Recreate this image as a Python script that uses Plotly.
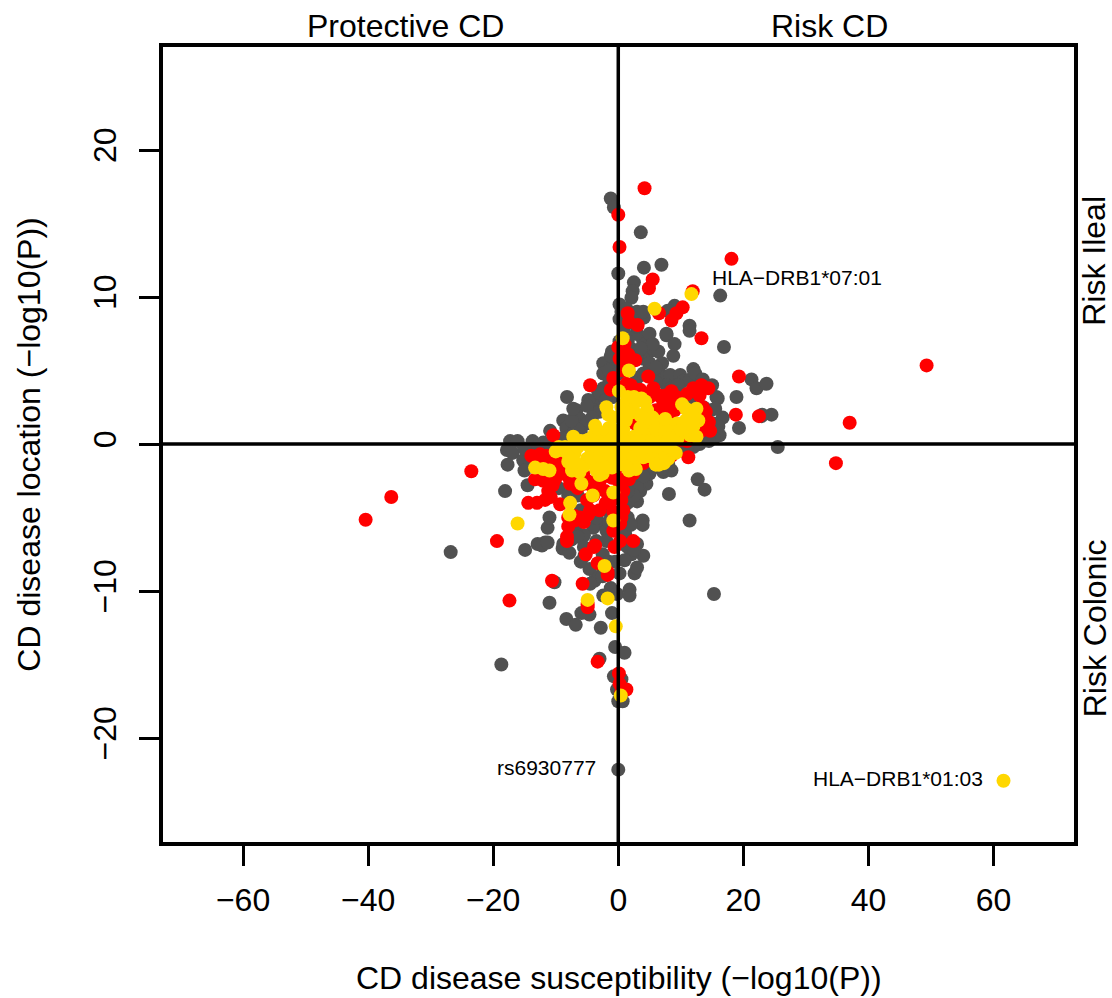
import plotly.graph_objects as go

gray_pts = [
(-1.2,16.7),(-0.7,16.1),(3.6,14.4),(0,11.6),(4.1,12.0),(6.9,12.2),(2.5,11.0),(2.3,10.4),(2.1,9.95),(0.2,9.5),(16.3,10.1),
(9,9.4),(7.9,9.07),(4.1,8.6),(11.4,8.05),(7.7,7.5),(3,7.5),(16.9,6.6),(21.3,4.4),(22.1,3.8),(18.9,3.2),(22.9,1.9),(19.3,1.1),
(16.7,1.8),(15.9,3.1),(16.2,0.6),(-8.2,3.2),(12.7,-2.4),(13.8,-3.1),(8.1,-3.4),(11.4,-5.2),(-18.1,-3.2),(-17.7,-1.4),
(-17.3,0.2),(-16.1,0.2),(-17.8,-0.4),(-16.9,-0.6),(-13.7,0.2),(-11.3,-5.7),(-11.7,-6.7),(-12.9,-6.8),(-14.9,-7.2),
(3.9,-5.2),(3.9,-5.5),(3,-3.9),(-26.8,-7.35),(-18.7,-15),(15.3,-10.2),(25.5,-0.2),(24.5,2),(23.7,4.1),(23,2),(0,-22.15),
(-12.2,-6.9),(-11.3,-6.7),(-8.9,-7.1),(-7.8,-7.4),(-5.4,-7.6),(-4.6,-8.5),(-3.8,-9.3),(-10.2,-9.4),(-11,-10.8),(-8.3,-11.9),
(-6.8,-12.3),(-5.9,-11.5),(-4.6,-11.6),(-2.8,-12.5),(-1,-11.5),(-1.2,-9.8),(-2.4,-10.3),(-0.2,-10.2),(1.8,-9.9),(1.8,-10.3),
(2.6,-8.8),(3,-8.4),(4,-7.6),(2.1,-7.5),(1,-7.9),(0.2,-8.8),(-0.5,-13.8),(1,-14.2),(-3,-14.6),(-0.7,-15.8),(0.5,-16),
(-0.2,-16.7),(0,-17.5),(0.7,-17.5),
(-2.4,5.5),(-0.8,5.4),(4,7),(5,6.3),(6.4,6.3),(4,5.8),(2.9,7.5),(7.7,7.4),(9,6.8),(8.8,6),(11.4,7.7),
(6.9,4.7),(8.3,4.7),(9.9,4.7),(12,5.1),(7.7,4),(10.4,4.3),(5.6,4.7),(-6.7,2.3),(-8.8,1.6),(-8.3,1.1),(-6.1,1.7),(-10.9,0.9),
(-3.5,2.9),(-4,2.3),(-5.1,1.4),(-2.4,3.8),(-0.8,3.2),(-2.4,4.8),(15.7,3.2),(14.7,2.3),(13.6,2.5),(15.2,1.4),(13,0),(12,-0.2),
(9.9,-0.3),(4.5,-2.7),(3.5,-3.2),(2.9,-2.3),(7.2,-1.9),(5.6,-1.6),(-13.6,-0.4),(-15.2,-1.1),(-2.9,-5.4),(-4,-5.7),(-1.9,-5.9),
(-3.5,-6.6),(-1.9,-6.6),(-8.8,-6.8),(1.9,-5.4),(1.1,-6.1),(-1.9,-4.5),(0.5,9),(1,8),(0.2,7),(1.5,7),(2,6.5),(3,6),(1,5),(2,8.5),(3,9),
(-9.5,0.2),(-12,0.1),(-8,0.5),(-6,0.8),(-14,-1.2),(-11.5,-0.3),(-5.5,-6.2),(-6.8,-5.8),(-9.5,-3),(-6.5,-3.5),(1.5,-4),(2,-3),
(10.5,3.4),(12.2,2.9),(14,1),(11,0),(5,5.2),(7,5.5),(3,4.5),(-1,6.3),(-1.4,4.2),(-3.2,3.5),(-4.8,3),(-7,0.8),
(-7.5,0.2),(-9,0.4),(-10,0.1),(-11,0),(-13,-0.2),(-15,-0.3),(-15,-1.8),(-14.5,-2.8),(-5,2.6),(-6.5,1),(-7.5,1.6),(-7.2,2.4),(-3,2.2),
(-4.2,1.8),(-2,3),(-1.5,5),(-1.2,6),(0,4.8),(-0.5,4),(0.2,8.5),(1.3,9.2),(1,7.5),(3,8),(4,9),(5,7.5),(5.5,6.8),(3.6,6.5),(5,5.5),(6,5.2),
(6,4.2),(4,4.8),(8.5,3.8),(9.5,4),(11.5,4.4),(12.3,4.8),(13.5,4.4),(15,4),(15.5,2.4),(16,1.2),(15.3,0.4),(14.5,0.2),(11,-0.2),(8,-1.4),
(8.5,-1.8),(7,-1.7),(5,-2),(4,-2.2),(3,-3),(2.5,-3.5),(1.5,-3.2),(1.5,-5),(2,-5.5),(-1,-5),(-1.5,-5.3),(-3.5,-5),(-6,-4.5),(-8,-3.5),
(-11,-5),(-7.5,-6.5),(-6.5,-6.3),(-5.5,-7),(-2.5,-7.5),(-1.5,-8),(-0.5,-8),(-3,-9),(0.8,-6.8),(1.5,-7),(3,-6.8),(2.5,-7.2),(-4.5,-9.5),
(-2.5,-9),(-6,-8)
]
gray_x = [p[0] for p in gray_pts]
gray_y = [p[1] for p in gray_pts]

red_pts = [
(4.2,17.4),(0,15.6),(0.2,13.4),(18.1,12.6),(5.5,11.2),(4.9,10.6),(11.9,10.4),(1.5,8.9),(1.7,8.3),(3.1,8.1),(6.5,8.9),(10.3,9.3),
(9.3,8.9),(8.5,8.4),(13.3,7.2),(49.3,5.35),(37,1.45),(34.8,-1.3),(-40.4,-5.15),(-36.3,-3.6),(-23.5,-1.85),(-19.4,-6.6),(-17.4,-10.65),
(19.3,4.6),(18.8,2),(22.5,1.9),(11.2,-0.9),(-10.4,0.6),(-4.5,4),(0,6.6),(1.6,6.1),(2.7,5.7),(-0.8,4.5),(4.8,4.6),(1.3,4.1),(3.5,3.7),
(5.6,3.8),(8.5,3.6),(12,3.8),(13.3,4),(14.4,3.8),(7.2,2.8),(6,2.3),(8.3,2.6),(9.3,3.2),(14.1,1.6),(13.3,0.9),(14.7,0.9),(9.3,0.5),(12,0.5),
(2.7,1.4),(-13.9,-0.8),(-12.5,-0.7),(-11.5,-0.8),(-10.1,-1.4),(-9.3,-1.5),(-13.3,-2.4),(-12,-2.5),(-10.1,-2.4),(-11.2,-3.2),(-14.4,-4),
(-13,-4),(-11.7,-3.8),(-9.3,-4.1),(-7.7,-2.7),(-6.7,-2),(-5.6,-2),(-3.5,-2.5),(-2.1,-3.2),(-5,-3.8),(-4.5,-4.5),(-6.1,-5),(-8,-5),(-8,-5.6),
(-8.2,-6.3),(-0.8,-4.6),(0.8,-4.5),(0.3,-5.4),(-0.8,-5.9),(2.4,-6.6),(-3.7,-6.9),(0.3,-6.6),(2.4,-2),(0.8,-3.2),(5.6,-0.3),
(-10.6,-9.3),(-5.7,-9.5),(-4.9,-11.1),(-4.9,-10.9),(-3.3,-14.8),(-3.3,-8.1),(-1.7,-8.7),(-1.7,-8.9),(-5.2,-7.5),(-3.9,-7),(-8.2,-6.6),
(-0.6,-7),(0.1,-15.6),(0.2,-16.3),(1.3,-16.7),(0.5,-16.9),
(5,3.2),(6.5,3.3),(7.5,3.3),(9,2.8),(10,3),(11,3.4),(13,3.3),(13.5,2.5),(14,2.2),(13.5,2),(14.5,1.5),(12.5,1),(11,0.2),(10,0.3),(6.5,2),
(7.5,2.2),(8,1.9),(9,2.3),(3.3,3.5),(4.5,3.4),(2,4),(0.8,5),(1.6,5.3),(1,6.8),(0.2,5.8),(-0.3,3.8),(-1.2,3.7),
(-13.2,-1),(-12.5,-1.1),(-11,-1.1),(-10,-1),(-9,-1),(-9,-2),(-8.5,-1.8),(-8,-2.2),(-7,-2.5),(-6.5,-3),(-5.5,-2.7),(-5,-2.5),(-4,-3),(-3,-3),
(-2.8,-2.4),(-1,-2.3),(0,-2.5),(1,-2.4),(1.7,-2.4),(0.5,-3.8),(-1.2,-3.9),(-2,-4),(-4,-3.5),(-10.5,-2.8),(-10.8,-3.6),(-3,-4.5),(-4.8,-4.8),
(-5.5,-5.3),(-7,-4.9),(-7,-5.2),(0.5,-5),(0,-4.8),(3,-1),(4,-1.3),(6,-0.8),(8.2,-0.4),(8.5,-0.8),(-0.5,-1.8),(-4.2,-0.9)
]
red_x = [p[0] for p in red_pts]
red_y = [p[1] for p in red_pts]

gold_pts = [
(61.6,-22.9),(-16.1,-5.4),(0.4,-17.1),(-0.4,-12.4),(-1.7,-10.5),(-4.9,-10.6),(-2.2,-8.3),(11.7,10.2),(5.8,9.2),(0.7,7.2),(1.7,5),(0.1,3.6),
(1.3,2.9),(2.9,2.9),(4.3,2.9),(0.8,2.3),(2.5,2.2),(4.6,2.3),(-1.9,2.5),(-1.6,2),(1.2,1.6),(4.6,1.5),(6.8,1.5),(8.4,1.3),(10.2,2.7),
(12.5,2.4),(11.4,2.2),(12.8,1.6),(12,1.9),(10.8,1.6),(9.4,1.4),(0.8,1),(2.5,0.5),(4.5,0.7),(6.5,0.7),(8.5,0.6),(11.5,0.6),(12.5,0.5),(0.5,0.3),
(2.5,0.2),(4.7,0.2),(7,0.2),(-0.8,0.4),(-2.2,0.5),(-3.7,1.25),(-3.9,0.6),(-1.5,1.1),(-0.8,1.8),(-4.8,0.3),(-7.2,0.5),(-5.2,0.2),(-2.5,0.2),(-1,0.9),
(-10,-0.5),(-9,-0.4),(-8,-0.7),(-7,-0.6),(-4,-0.4),(-2,-0.3),(-0.5,-0.3),(-8,-1.2),(-7.4,-1.8),(-5.5,-1.5),(-3.7,-1.3),(-2,-1),(-0.7,-1),
(-3,-2.1),(-2.5,-2),(-1.2,-1.5),(-13.3,-1.6),(-12,-1.7),(-11,-1.8),(-6.2,-1.9),(0.5,-0.5),(2,-0.5),(3.5,-0.6),(5,-0.5),(6.5,-0.5),(7,-1),(7.3,-1.3),
(6.5,-1.4),(8,-1),(9.2,-0.6),(2.5,-1.5),(2.8,-1.7),(1.7,-1.8),(-5.9,-2.7),(-4.1,-3.5),(-0.8,-3.3),(-7.7,-4),(-7.8,-4.8),(-0.8,-5.2),
(0.5,2.5),(1.5,3.2),(2.5,3.2),(3.7,3.1),(0.5,1.8),(1.8,2.1),(3.6,1.9),(5.5,1.1),(1.5,0.4),(3.5,0.4),(5.5,0.4),(6,1),(7.5,1),(8,0.4),(9.5,0.4),
(10,1),(11,1.2),(-0.5,0.9),(-1.5,0.3),(-3,0.8),(-3.3,0.2),(-4.2,0.2),(-6,0.2),(1,0.2),(3.5,1.1),(10.8,2.4),(12,1.2),(5.5,1.8),(7.5,1.7),
(-9.5,-0.2),(-8.5,-0.2),(-7.5,-0.2),(-6.5,-0.2),(-4.5,-0.2),(-3.5,-0.2),(-2.5,-0.2),(-1.5,-0.2),(-7,-1.2),(-5,-1),(-4.5,-0.9),
(-3,-0.8),(-1.5,-0.7),(-1,-1.6),(-3.5,-1.8),(-2,-1.6),(0,-1.4),(1,-1),(1,-0.4),(2.5,-0.9),(4,-0.9),(5.5,-0.9),(6,-1.4),(7.5,-0.7),
(8.5,-0.4),(1.2,-1.5),(3,-0.2),(4.5,-0.2),(6,-0.2),(8,-0.2),(0,-0.7)
]
gold_x = [p[0] for p in gold_pts]
gold_y = [p[1] for p in gold_pts]

x_ticks = [-60,-40,-20,0,20,40,60]
y_ticks = [-20,-10,0,10,20]
x_tick_labels = ["\u221260","\u221240","\u221220","0","20","40","60"]
y_tick_labels = ["\u221220","\u221210","0","10","20"]
FONT = "Liberation Sans"

fig = go.Figure()
for xs, ys, c, name in [(gray_x,gray_y,"#515151","All"),(red_x,red_y,"#ff0000","Group 1"),(gold_x,gold_y,"#ffd700","Group 2")]:
    fig.add_trace(go.Scatter(x=xs,y=ys,mode="markers",name=name,marker=dict(color=c,size=14,line_width=0),cliponaxis=True))

ax = dict(showgrid=False,zeroline=False,showline=True,mirror=True,linecolor="black",linewidth=3.5,ticks="outside",ticklen=20,tickwidth=2.5,tickcolor="black",
          tickfont=dict(family=FONT,size=32,color="black"),automargin=False)
fig.update_xaxes(range=[-72.8,72.87],tickvals=x_ticks,ticktext=x_tick_labels,ticklabelstandoff=7,**ax)
fig.update_yaxes(range=[-27.07,27.01],tickvals=y_ticks,ticktext=y_tick_labels,tickangle=-90,ticklabelstandoff=10,**ax)

fig.add_shape(type="line",xref="x",yref="paper",x0=0,x1=0,y0=0,y1=1,line=dict(color="black",width=3.5),layer="above")
fig.add_shape(type="line",xref="paper",yref="y",x0=0,x1=1,y0=0,y1=0,line=dict(color="black",width=3.5),layer="above")

def note(t,x,y,size,xanchor="center",xref="x",yref="y",angle=0):
    fig.add_annotation(text=t,x=x,y=y,xref=xref,yref=yref,showarrow=False,xanchor=xanchor,yanchor="middle",textangle=angle,
                       font=dict(family=FONT,size=size,color="black"))
note("HLA\u2212DRB1*07:01",14.7,11.3,21,"left")
note("rs6930777",-3.3,-22.0,21,"right")
note("HLA\u2212DRB1*01:03",58.7,-22.75,21,"right")
note("Protective CD",0.2666,1.027,32,xref="paper",yref="paper")
note("Risk CD",0.7317,1.027,32,xref="paper",yref="paper")
note("Risk Ileal",1.0225,12.5,32,angle=-90,xref="paper")
note("Risk Colonic",1.0225,-12.5,32,angle=-90,xref="paper")
note("CD disease susceptibility (\u2212log10(P))",0.5,-0.1705,32,xref="paper",yref="paper")
note("CD disease location (\u2212log10(P))",-0.148,0.5,32,xref="paper",yref="paper",angle=-90)

fig.update_layout(width=1112,height=998,margin=dict(l=163,r=37.5,t=46.5,b=156),plot_bgcolor="white",paper_bgcolor="white",showlegend=False)
fig.write_html("out.html",config={"displayModeBar":False},post_script="document.body.style.margin='0';document.documentElement.style.overflow='hidden';")
